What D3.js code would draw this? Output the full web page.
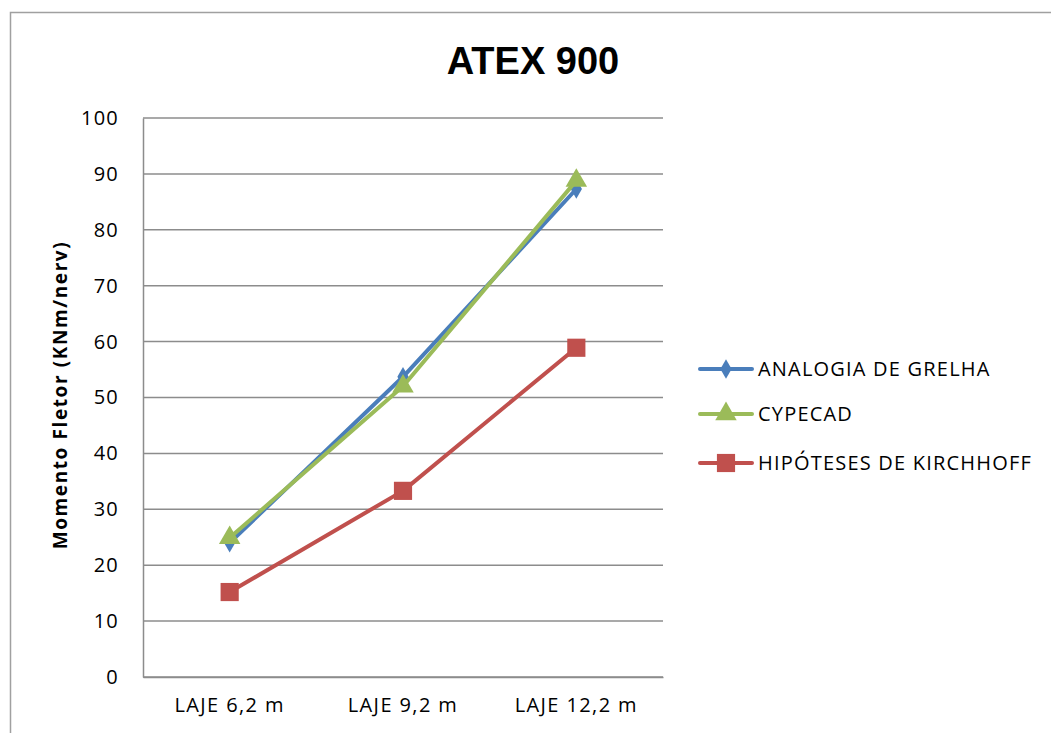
<!DOCTYPE html>
<html><head><meta charset="utf-8">
<script src="https://cdn.jsdelivr.net/npm/d3@7"></script>
<style>body{margin:0;background:#fff}svg{display:block}</style>
</head><body>
<svg id="c" width="1051" height="733"></svg>
<script>
const categories = ["LAJE 6,2 m", "LAJE 9,2 m", "LAJE 12,2 m"];
const analogia = [24.0, 53.7, 87.3];
const cypecad = [24.9, 52.0, 88.8];
const kirchhoff = [15.2, 33.3, 58.9];
const seriesNames = ["ANALOGIA DE GRELHA", "CYPECAD", "HIPÓTESES DE KIRCHHOFF"];
const yTicks = [0, 10, 20, 30, 40, 50, 60, 70, 80, 90, 100];

const svg = d3.select("#c");
const font = "'Open Sans', sans-serif";
const m = {l: 143, r: 663, t: 118, b: 677};

// outer frame
svg.append("path").attr("d", "M10.5,740 V12.5 H1060").attr("fill", "none").attr("stroke", "#a0a0a0").attr("stroke-width", 1.5);

const x = d3.scaleBand().domain(categories).range([m.l, m.r]);
const y = d3.scaleLinear().domain([0, 100]).range([m.b, m.t]);

// gridlines
svg.append("g").selectAll("line").data(yTicks).join("line")
  .attr("x1", m.l).attr("x2", m.r).attr("y1", d => y(d)).attr("y2", d => y(d))
  .attr("stroke", "#8c8c8c").attr("stroke-width", 1.5);

// y axis
const ya = svg.append("g").attr("transform", `translate(${m.l},0)`)
  .call(d3.axisLeft(y).tickValues(yTicks).tickSize(0).tickPadding(24));
ya.select(".domain").attr("stroke", "#8c8c8c").attr("stroke-width", 1.5);
ya.selectAll("text").attr("font-family", font).attr("font-size", 20).attr("letter-spacing", 1.2).attr("fill", "#000");

// x axis
const xa = svg.append("g").attr("transform", `translate(0,${m.b})`)
  .call(d3.axisBottom(x).tickSize(0).tickPadding(21));
xa.select(".domain").attr("stroke", "#8c8c8c").attr("stroke-width", 1.5);
xa.selectAll("text").attr("font-family", font).attr("font-size", 20).attr("letter-spacing", 1.4).attr("fill", "#000");

// title
svg.append("text").attr("x", 533).attr("y", 74).attr("text-anchor", "middle")
  .attr("font-family", "'Liberation Sans', Arial, sans-serif").attr("font-weight", "bold").attr("font-size", 38).text("ATEX 900");

// y label
svg.append("text").attr("transform", "translate(67,395) rotate(-90)").attr("text-anchor", "middle")
  .attr("font-family", font).attr("font-weight", "bold").attr("font-size", 19).attr("letter-spacing", 1.6).text("Momento Fletor (KNm/nerv)");

const series = [
  {name: seriesNames[0], values: analogia, color: "#4A7EBB", sym: d3.symbolDiamond, size: 110},
  {name: seriesNames[1], values: cypecad, color: "#9BBB59", sym: d3.symbolTriangle, size: 200},
  {name: seriesNames[2], values: kirchhoff, color: "#C0504D", sym: d3.symbolSquare, size: 330}
];
const cx = c => x(c) + x.bandwidth() / 2;
const line = d3.line().x((d, i) => cx(categories[i])).y(d => y(d));

series.forEach(s => {
  svg.append("path").datum(s.values).attr("d", line).attr("fill", "none")
    .attr("stroke", s.color).attr("stroke-width", 4).attr("stroke-linejoin", "round");
  svg.append("g").selectAll("path").data(s.values).join("path")
    .attr("transform", (d, i) => `translate(${cx(categories[i])},${y(d)})`)
    .attr("d", d3.symbol().type(s.sym).size(s.size)).attr("fill", s.color);
});

// legend
const leg = svg.append("g");
const legY = [369, 414, 463];
series.forEach((s, i) => {
  const g = leg.append("g").attr("transform", `translate(700,${legY[i]})`);
  g.append("line").attr("x1", 0).attr("x2", 52).attr("stroke", s.color).attr("stroke-width", 4).attr("stroke-linecap", "round");
  g.append("path").attr("transform", "translate(26,0)").attr("d", d3.symbol().type(s.sym).size(s.size)).attr("fill", s.color);
  g.append("text").attr("x", 58).attr("y", 7).attr("font-family", font).attr("font-size", 20).attr("letter-spacing", 1.2).text(s.name);
});
</script>
</body></html>
